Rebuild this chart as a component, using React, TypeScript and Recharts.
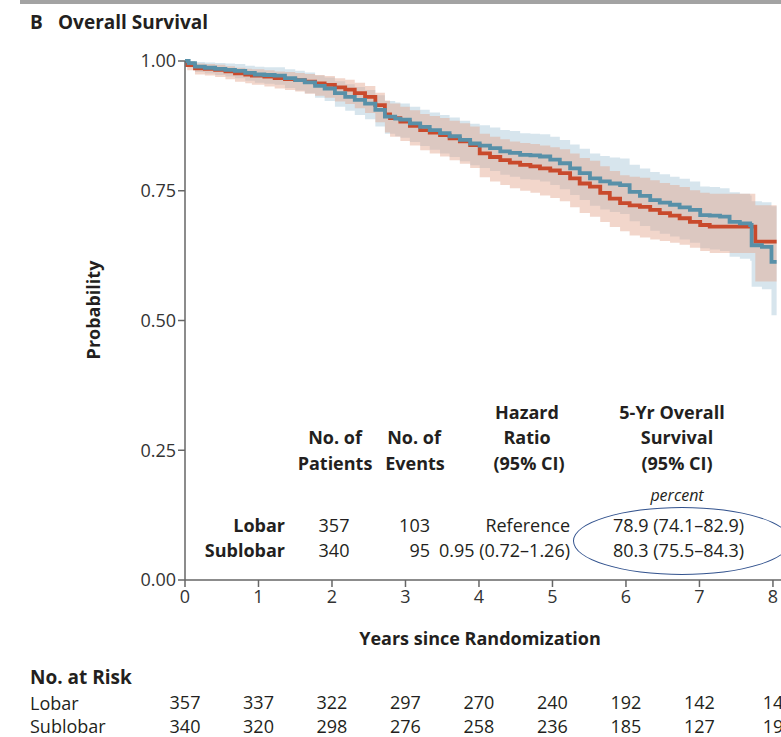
import React from 'react';
import { ComposedChart, Line, Area, XAxis, YAxis } from 'recharts';

const FONT = '"Open Sans", "DejaVu Sans", sans-serif';

// Kaplan-Meier estimates (years since randomization, probability)
const lobarTime = [0, 0.03, 0.136, 0.27, 0.41, 0.55, 0.68, 0.82, 0.91, 1.08, 1.22, 1.36, 1.5, 1.63, 1.77, 1.9, 2.04, 2.18, 2.31, 2.45, 2.59, 2.72, 2.79, 2.93, 3.06, 3.2, 3.33, 3.47, 3.6, 3.74, 3.88, 4.01, 4.15, 4.29, 4.42, 4.56, 4.7, 4.83, 4.97, 5.1, 5.24, 5.37, 5.51, 5.65, 5.78, 5.92, 6.05, 6.19, 6.33, 6.46, 6.6, 6.73, 6.87, 7.01, 7.14, 7.28, 7.41, 7.55, 7.69, 7.76, 8.05];
const lobarSurv = [1, 0.992, 0.986, 0.985, 0.983, 0.98, 0.976, 0.974, 0.972, 0.97, 0.967, 0.965, 0.963, 0.96, 0.957, 0.954, 0.949, 0.945, 0.938, 0.931, 0.915, 0.897, 0.89, 0.883, 0.875, 0.867, 0.862, 0.857, 0.851, 0.845, 0.838, 0.822, 0.815, 0.809, 0.804, 0.8, 0.797, 0.793, 0.789, 0.784, 0.774, 0.764, 0.758, 0.746, 0.735, 0.726, 0.722, 0.719, 0.713, 0.707, 0.702, 0.697, 0.69, 0.684, 0.681, 0.681, 0.681, 0.681, 0.681, 0.652, 0.652];
const lobarLow = [1, 0.982, 0.974, 0.972, 0.969, 0.965, 0.96, 0.957, 0.954, 0.951, 0.947, 0.944, 0.941, 0.937, 0.933, 0.929, 0.922, 0.917, 0.909, 0.9, 0.882, 0.862, 0.854, 0.846, 0.837, 0.828, 0.822, 0.816, 0.809, 0.802, 0.794, 0.776, 0.768, 0.761, 0.755, 0.75, 0.746, 0.741, 0.736, 0.73, 0.718, 0.707, 0.7, 0.69, 0.68, 0.672, 0.664, 0.66, 0.656, 0.653, 0.65, 0.646, 0.64, 0.634, 0.63, 0.63, 0.63, 0.63, 0.63, 0.575, 0.575];
const lobarHigh = [1, 0.999, 0.995, 0.994, 0.993, 0.99, 0.987, 0.985, 0.984, 0.982, 0.98, 0.979, 0.977, 0.975, 0.973, 0.971, 0.967, 0.964, 0.958, 0.952, 0.939, 0.924, 0.918, 0.912, 0.905, 0.898, 0.894, 0.89, 0.885, 0.88, 0.874, 0.86, 0.854, 0.849, 0.845, 0.842, 0.84, 0.837, 0.834, 0.83, 0.822, 0.813, 0.808, 0.797, 0.788, 0.78, 0.777, 0.775, 0.77, 0.765, 0.761, 0.757, 0.751, 0.746, 0.744, 0.744, 0.744, 0.744, 0.744, 0.722, 0.722];

const sublobarTime = [0, 0.05, 0.136, 0.27, 0.41, 0.55, 0.68, 0.82, 0.95, 1.08, 1.22, 1.36, 1.5, 1.63, 1.77, 1.9, 2.04, 2.18, 2.31, 2.45, 2.59, 2.72, 2.86, 2.93, 3.06, 3.2, 3.33, 3.47, 3.6, 3.74, 3.88, 4.01, 4.15, 4.29, 4.42, 4.56, 4.7, 4.83, 4.97, 5.1, 5.24, 5.37, 5.51, 5.65, 5.78, 5.92, 6.05, 6.19, 6.33, 6.46, 6.6, 6.73, 6.87, 7.01, 7.14, 7.28, 7.41, 7.55, 7.69, 7.71, 7.85, 7.98, 8.05];
const sublobarSurv = [1, 0.996, 0.989, 0.987, 0.985, 0.983, 0.981, 0.977, 0.974, 0.973, 0.972, 0.967, 0.963, 0.959, 0.952, 0.947, 0.938, 0.931, 0.925, 0.918, 0.906, 0.893, 0.889, 0.887, 0.88, 0.873, 0.867, 0.861, 0.855, 0.848, 0.841, 0.837, 0.832, 0.826, 0.823, 0.819, 0.818, 0.816, 0.81, 0.803, 0.793, 0.784, 0.774, 0.768, 0.764, 0.761, 0.748, 0.74, 0.732, 0.727, 0.723, 0.718, 0.713, 0.703, 0.702, 0.7, 0.69, 0.687, 0.684, 0.645, 0.642, 0.613, 0.613];
const sublobarLow = [1, 0.988, 0.979, 0.976, 0.973, 0.97, 0.967, 0.962, 0.958, 0.956, 0.954, 0.948, 0.943, 0.938, 0.929, 0.923, 0.912, 0.904, 0.896, 0.888, 0.874, 0.86, 0.855, 0.852, 0.844, 0.836, 0.829, 0.822, 0.815, 0.807, 0.799, 0.794, 0.788, 0.781, 0.777, 0.772, 0.771, 0.768, 0.761, 0.753, 0.742, 0.732, 0.721, 0.714, 0.709, 0.705, 0.691, 0.682, 0.673, 0.667, 0.662, 0.656, 0.65, 0.639, 0.637, 0.634, 0.623, 0.619, 0.615, 0.565, 0.56, 0.51, 0.51];
const sublobarHigh = [1, 1, 0.998, 0.997, 0.996, 0.995, 0.994, 0.991, 0.989, 0.988, 0.988, 0.984, 0.981, 0.978, 0.972, 0.968, 0.961, 0.955, 0.95, 0.944, 0.934, 0.923, 0.92, 0.918, 0.912, 0.906, 0.901, 0.896, 0.891, 0.885, 0.879, 0.876, 0.872, 0.867, 0.865, 0.861, 0.86, 0.859, 0.854, 0.848, 0.839, 0.831, 0.822, 0.817, 0.814, 0.812, 0.8, 0.793, 0.786, 0.782, 0.777, 0.773, 0.768, 0.758, 0.757, 0.755, 0.747, 0.744, 0.741, 0.73, 0.728, 0.72, 0.72];

const yearTicks = [0, 1, 2, 3, 4, 5, 6, 7, 8];
const probTicks = [0, 0.25, 0.5, 0.75, 1];
const lobarAtRisk = [357, 337, 322, 297, 270, 240, 192, 142, 14];
const sublobarAtRisk = [340, 320, 298, 276, 258, 236, 185, 127, 19];

const lobarRows = lobarTime.map((t, i) => ({ t, s: lobarSurv[i], ci: [lobarLow[i], lobarHigh[i]] }));
const sublobarRows = sublobarTime.map((t, i) => ({ t, s: sublobarSurv[i], ci: [sublobarLow[i], sublobarHigh[i]] }));

const RED = '#c94a2c';
const BLUE = '#5890a8';
const INK = '#231f20';

// year label under the axis plus the two "No. at Risk" rows, all on the axis scale
function YearTick({ x, y, payload }: any) {
  const i = payload.value as number;
  return (
    <g fontFamily={FONT} fontSize={18} textAnchor="middle">
      <text x={x} y={y} dy="0.71em" fill="#333">{i}</text>
      <text x={x} y={y + 106} dy="0.71em" fill={INK}>{lobarAtRisk[i]}</text>
      <text x={x} y={y + 130} dy="0.71em" fill={INK}>{sublobarAtRisk[i]}</text>
    </g>
  );
}

type TProps = { x: number; y: number; align?: 'left' | 'center' | 'right'; size?: number; bold?: boolean; italic?: boolean; children: React.ReactNode };

function T({ x, y, align = 'left', size = 18, bold, italic, children }: TProps) {
  const shift = align === 'center' ? 'translateX(-50%)' : align === 'right' ? 'translateX(-100%)' : 'none';
  return (
    <div
      style={{
        position: 'absolute',
        left: x,
        top: y - 10,
        lineHeight: '20px',
        height: 20,
        fontSize: size,
        fontWeight: bold ? 700 : 400,
        fontStyle: italic ? 'italic' : 'normal',
        color: INK,
        whiteSpace: 'nowrap',
        transform: shift,
      }}
    >
      {children}
    </div>
  );
}

const yTick = { fill: '#333', fontSize: 18, fontFamily: FONT };

export default function App() {
  return (
    <div style={{ position: 'relative', width: 781, height: 737, overflow: 'hidden', background: '#fff', fontFamily: FONT }}>
      <style>{'body{margin:0}'}</style>
      <div style={{ position: 'absolute', left: 20, top: 0, width: 761, height: 4, background: '#a3a3a3' }} />
      <T x={30} y={22} size={19} bold>B</T>
      <T x={58} y={22} size={19} bold>Overall Survival</T>

      <ComposedChart width={795} height={737} margin={{ top: 61, right: 0, bottom: 0, left: 0 }}>
        <XAxis
          type="number"
          dataKey="t"
          domain={[0, 8.3]}
          ticks={yearTicks}
          allowDataOverflow
          height={157}
          tickSize={7}
          tickMargin={3.5}
          stroke="#666"
          strokeWidth={1.5}
          tick={YearTick}
        />
        <YAxis
          type="number"
          domain={[0, 1]}
          ticks={probTicks}
          width={185}
          tickSize={7}
          tickMargin={2}
          stroke="#666"
          strokeWidth={1.5}
          tickFormatter={(v: number) => v.toFixed(2)}
          tick={yTick}
        />
        <Area data={sublobarRows} dataKey="ci" type="stepAfter" stroke="none" fill="#a7c6d7" fillOpacity={0.45} isAnimationActive={false} />
        <Area data={lobarRows} dataKey="ci" type="stepAfter" stroke="none" fill="#e2a48c" fillOpacity={0.45} isAnimationActive={false} />
        <Line data={lobarRows} dataKey="s" type="stepAfter" stroke={RED} strokeWidth={3.8} dot={false} isAnimationActive={false} />
        <Line data={sublobarRows} dataKey="s" type="stepAfter" stroke={BLUE} strokeWidth={3.8} dot={false} isAnimationActive={false} />
      </ComposedChart>

      <div
        style={{
          position: 'absolute',
          left: 93,
          top: 310,
          transform: 'translate(-50%, -50%) rotate(-90deg)',
          fontSize: 18,
          fontWeight: 700,
          color: INK,
          whiteSpace: 'nowrap',
        }}
      >
        Probability
      </div>
      <T x={480} y={638} bold align="center">Years since Randomization</T>

      {/* summary table inside the plot */}
      <T x={527} y={412} bold align="center">Hazard</T>
      <T x={672} y={412} bold align="center">5-Yr Overall</T>
      <T x={335} y={437} bold align="center">No. of</T>
      <T x={414} y={437} bold align="center">No. of</T>
      <T x={527} y={437} bold align="center">Ratio</T>
      <T x={677} y={437} bold align="center">Survival</T>
      <T x={335} y={463} bold align="center">Patients</T>
      <T x={415} y={463} bold align="center">Events</T>
      <T x={529} y={463} bold align="center">(95% CI)</T>
      <T x={677} y={463} bold align="center">(95% CI)</T>
      <T x={677} y={495} size={16} italic align="center">percent</T>

      <T x={285} y={525} bold align="right">Lobar</T>
      <T x={334} y={525} align="center">357</T>
      <T x={430} y={525} align="right">103</T>
      <T x={570} y={525} align="right">Reference</T>
      <T x={613} y={525}>78.9 (74.1–82.9)</T>
      <T x={285} y={550} bold align="right">Sublobar</T>
      <T x={334} y={550} align="center">340</T>
      <T x={430} y={550} align="right">95</T>
      <T x={570} y={550} align="right">0.95 (0.72–1.26)</T>
      <T x={613} y={550}>80.3 (75.5–84.3)</T>
      <div
        style={{
          position: 'absolute',
          left: 573,
          top: 507,
          width: 218,
          height: 68,
          border: '1.5px solid #34548f',
          borderRadius: '50%',
          boxSizing: 'border-box',
        }}
      />

      <T x={30} y={677} size={19} bold>No. at Risk</T>
      <T x={30} y={703}>Lobar</T>
      <T x={30} y={726}>Sublobar</T>
    </div>
  );
}
